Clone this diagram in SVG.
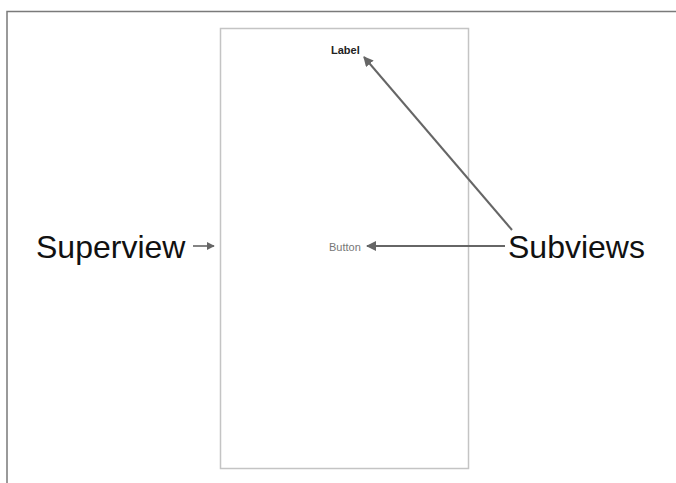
<svg xmlns="http://www.w3.org/2000/svg" width="676" height="483" viewBox="0 0 676 483">
  <style>
    .frame { fill: none; stroke: #7a7a7a; stroke-width: 1.5; }
    .screen { fill: #ffffff; stroke: #c4c4c4; stroke-width: 1.5; }
    .big { font-family: "Liberation Sans", Arial, sans-serif; font-size: 32px; fill: #111; }
    .small { font-family: "Liberation Sans", Arial, sans-serif; font-size: 11px; }
    .conn { stroke: #666; stroke-width: 2; fill: none; }
    .conn-thin { stroke: #666; stroke-width: 1.6; fill: none; }
  </style>
  <defs>
    <marker id="head" viewBox="0 0 10 10" refX="9" refY="5" markerWidth="5" markerHeight="5" orient="auto" markerUnits="strokeWidth">
      <path d="M0,0 L10,5 L0,10 z" fill="#666"/>
    </marker>
  </defs>
  <rect width="676" height="483" fill="#ffffff"/>
  <!-- outer frame -->
  <path class="frame" d="M7,483 V11.5 H676"/>
  <!-- superview screen -->
  <g id="superview-screen">
    <rect class="screen" x="220.5" y="28.5" width="248" height="440"/>
  </g>
  <g id="label-view">
    <text class="small" x="331" y="54" fill="#222" font-weight="bold">Label</text>
  </g>
  <g id="button-view">
    <text class="small" x="329" y="251" fill="#777">Button</text>
  </g>
  <g id="superview-caption">
    <text class="big" x="36" y="258">Superview</text>
  </g>
  <g id="subviews-caption">
    <text class="big" x="508" y="258">Subviews</text>
  </g>
  <g id="connectors">
    <line class="conn-thin" x1="193" y1="246" x2="214" y2="246" marker-end="url(#head)"/>
    <line class="conn" x1="505" y1="246" x2="367" y2="246" marker-end="url(#head)"/>
    <line class="conn" x1="512" y1="230" x2="364" y2="57" marker-end="url(#head)"/>
  </g>
</svg>
